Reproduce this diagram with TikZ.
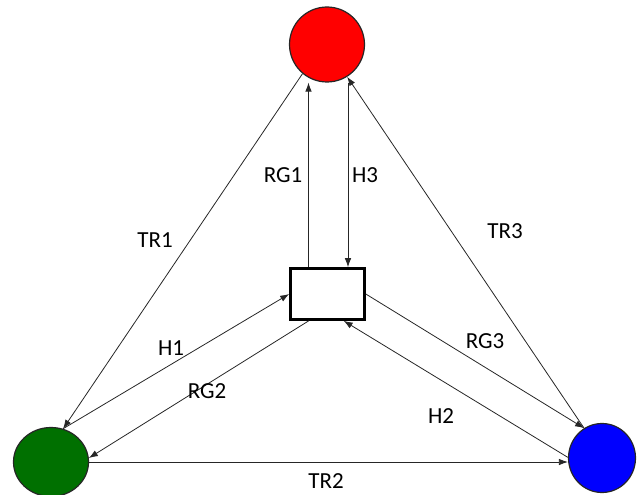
\documentclass[tikz,border=0pt]{standalone}
\usepackage{fontspec}
\setmainfont{Carlito}
\usetikzlibrary{arrows.meta,shapes.geometric}

\definecolor{nodered}{RGB}{255,0,0}
\definecolor{nodegreen}{RGB}{0,112,0}
\definecolor{nodeblue}{RGB}{0,0,255}

\tikzset{
  agent/.style={draw=black!85, line width=1.2pt, inner sep=0pt},
  hub/.style={draw=black, line width=2.6pt, fill=white, minimum width=74pt, minimum height=51pt, inner sep=0pt},
  link/.style={draw=black!85, line width=0.8pt, -{Latex[length=9pt,width=6.5pt]}},
  lbl/.style={font=\fontsize{23}{26}\selectfont, inner sep=0pt}
}

\begin{document}
\begin{tikzpicture}[x=1pt,y=-1pt]
  \useasboundingbox (0,0) rectangle (641,495);

  % agents and central box
  \node[agent, circle, fill=nodered, minimum size=75pt] (red) at (327,44.5) {};
  \node[agent, ellipse, fill=nodegreen, minimum width=75pt, minimum height=69pt] (green) at (51,462) {};
  \node[agent, ellipse, fill=nodeblue, minimum width=67pt, minimum height=69pt] (blue) at (602,458) {};
  \node[hub] (box) at (327.5,294) {};

  % outer triangle
  \draw[link] (red.230) -- (green.70);
  \draw[link] (green.east) -- (green.east -| blue.west);
  \draw[link] (blue.121) -- (red.-58);

  % links through the box
  \draw[link] ([xshift=-19pt]box.north) -- ([xshift=-19pt]box.north |- red.south);
  \draw[link] ([xshift=20.5pt]box.north |- red.south) -- ([xshift=20.5pt]box.north);
  \draw[link] (green.70) -- (box.west);
  \draw[link] (box.235) -- (green.6);
  \draw[link] (box.east) -- (blue.121);
  \draw[link] (blue.179) -- (box.-59);

  % labels
  \node[lbl] (tr1) at (155,240) {TR1};
  \node[lbl] (tr2) at (326,481) {TR2};
  \node[lbl] (tr3) at (505,231) {TR3};
  \node[lbl] (rg1) at (283,175) {RG1};
  \node[lbl] (h3)  at (365,175) {H3};
  \node[lbl] (h1)  at (171,348) {H1};
  \node[lbl] (rg2) at (207,391) {RG2};
  \node[lbl] (rg3) at (485,341) {RG3};
  \node[lbl] (h2)  at (441,416) {H2};
\end{tikzpicture}
\end{document}
